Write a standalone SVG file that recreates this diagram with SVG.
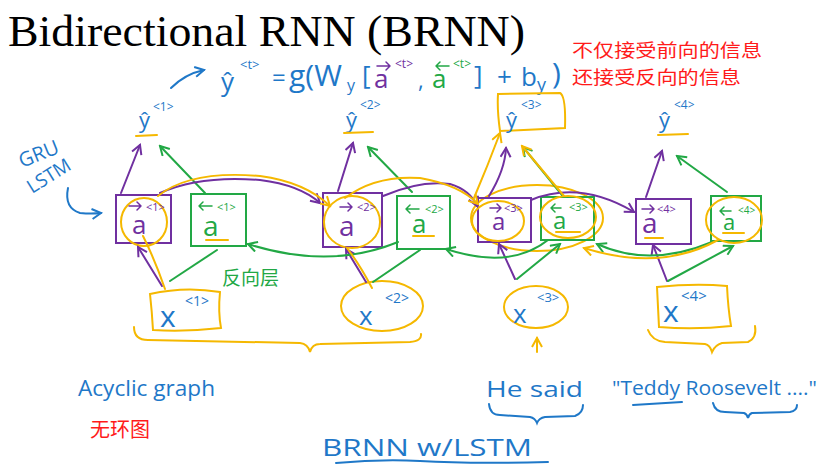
<svg xmlns="http://www.w3.org/2000/svg" width="831" height="471" viewBox="0 0 831 471">
<style>
.hw{font-family:"Open Sans","Liberation Sans",sans-serif;}
.blue{fill:#1f78c8;}
.pur{fill:#7030a0;}
.grn{fill:#22a845;}
.red{fill:#ff1a1a;font-family:"Noto Sans CJK SC",sans-serif;}
.sp{stroke:#7030a0;stroke-width:2;fill:none;stroke-linecap:round;stroke-linejoin:round;}
.sg{stroke:#22a845;stroke-width:2;fill:none;stroke-linecap:round;stroke-linejoin:round;}
.sy{stroke:#f5b800;stroke-width:2;fill:none;stroke-linecap:round;}
.sb{stroke:#1f78c8;stroke-width:2;fill:none;stroke-linecap:round;}
.acp{stroke:#7030a0;stroke-width:1.5;fill:none;stroke-linecap:round;stroke-linejoin:round;}
.acg{stroke:#22a845;stroke-width:1.5;fill:none;stroke-linecap:round;stroke-linejoin:round;}
.boxp{stroke:#7030a0;stroke-width:2;fill:none;}
.boxg{stroke:#22a845;stroke-width:2;fill:none;}
.boxy{stroke:#f5b800;stroke-width:2;fill:none;}
.title{font-family:"Liberation Serif","DejaVu Serif",serif;}
.cjk{font-family:"Noto Sans CJK SC",sans-serif;}
</style>
<defs>
<marker id="mp" markerWidth="12" markerHeight="12" refX="10" refY="6" orient="auto" markerUnits="userSpaceOnUse"><path d="M1,1 L10,6 L1,11" fill="none" stroke="#7030a0" stroke-width="2"/></marker>
<marker id="mg" markerWidth="12" markerHeight="12" refX="10" refY="6" orient="auto" markerUnits="userSpaceOnUse"><path d="M1,1 L10,6 L1,11" fill="none" stroke="#22a845" stroke-width="2"/></marker>
<marker id="my" markerWidth="12" markerHeight="12" refX="10" refY="6" orient="auto" markerUnits="userSpaceOnUse"><path d="M1,1 L10,6 L1,11" fill="none" stroke="#f5b800" stroke-width="2"/></marker>
<marker id="mb" markerWidth="12" markerHeight="12" refX="10" refY="6" orient="auto" markerUnits="userSpaceOnUse"><path d="M1,1 L10,6 L1,11" fill="none" stroke="#1f78c8" stroke-width="2"/></marker>
</defs>
<rect width="831" height="471" fill="#ffffff"/>

<g id="title"><text class="title" x="8" y="46" font-size="44" textLength="517" lengthAdjust="spacingAndGlyphs" fill="#000">Bidirectional RNN (BRNN)</text></g>

<g id="note">
<text class="red" x="572" y="57" font-size="18" textLength="190" lengthAdjust="spacingAndGlyphs">不仅接受前向的信息</text>
<text class="red" x="572" y="84" font-size="18" textLength="169" lengthAdjust="spacingAndGlyphs">还接受反向的信息</text>
</g>

<g id="equation" class="hw">
<path class="sb" d="M171,88 Q185,74 204,70" marker-end="url(#mb)"/>
<text class="blue" x="221" y="91" font-size="26">ŷ</text>
<text class="blue" x="240" y="69" font-size="13">&lt;t&gt;</text>
<text class="blue" x="272" y="86" font-size="24">=</text>
<text class="blue" x="289" y="86" font-size="30">g(W</text>
<text class="blue" x="347" y="91" font-size="16">y</text>
<text class="blue" x="362" y="84" font-size="26">[</text>
<path class="acp" d="M377,66 H390 M386,62 L390,66 L386,70"/>
<text class="pur" x="374" y="88" font-size="26">a</text>
<text class="pur" x="395" y="68" font-size="12">&lt;t&gt;</text>
<text class="blue" x="418" y="88" font-size="22">,</text>
<path class="acg" d="M449,66 H436 M440,62 L436,66 L440,70"/>
<text class="grn" x="432" y="88" font-size="26">a</text>
<text class="grn" x="453" y="68" font-size="12">&lt;t&gt;</text>
<text class="blue" x="474" y="84" font-size="26">]</text>
<text class="blue" x="497" y="86" font-size="26">+</text>
<text class="blue" x="521" y="86" font-size="26">b</text>
<text class="blue" x="537" y="91" font-size="18">y</text>
<text class="blue" x="552" y="84" font-size="30">)</text>
</g>

<g id="y1" class="hw">
<text class="blue" x="139" y="128" font-size="22">ŷ</text>
<text class="blue" x="153" y="111" font-size="12">&lt;1&gt;</text>
<path class="sy" d="M136,136 L157,135"/>
</g>
<g id="y2" class="hw">
<text class="blue" x="346" y="128" font-size="22">ŷ</text>
<text class="blue" x="360" y="109" font-size="12">&lt;2&gt;</text>
<path class="sy" d="M344,133 L373,132"/>
</g>
<g id="y3" class="hw">
<path class="boxy" d="M498,94 L560,93 Q566,96 565,128 L500,131 Q497,110 498,94 Z"/>
<text class="blue" x="506" y="128" font-size="22">ŷ</text>
<text class="blue" x="521" y="109" font-size="12">&lt;3&gt;</text>
</g>
<g id="y4" class="hw">
<text class="blue" x="659" y="128" font-size="22">ŷ</text>
<text class="blue" x="674" y="109" font-size="12">&lt;4&gt;</text>
<path class="sy" d="M658,135 L688,134"/>
</g>

<g id="af1" class="hw">
<rect class="boxp" x="116" y="195" width="55" height="48"/>
<ellipse class="boxy" cx="144" cy="222" rx="23" ry="24"/>
<path class="acp" d="M129,206 H141 M137,202 L141,206 L137,210"/>
<text class="pur" x="146" y="211" font-size="11">&lt;1&gt;</text>
<text class="pur" x="132" y="234" font-size="26">a</text>
</g>
<g id="ab1" class="hw">
<rect class="boxg" x="191" y="194" width="55" height="52"/>
<path class="acg" d="M212,206 H199 M203,202 L199,206 L203,210"/>
<text class="grn" x="217" y="211" font-size="11">&lt;1&gt;</text>
<text class="grn" x="203" y="236" font-size="28">a</text>
<path class="sy" d="M206,240 L228,240"/>
</g>
<g id="af2" class="hw">
<rect class="boxp" x="323" y="193" width="59" height="54"/>
<ellipse class="boxy" cx="352" cy="222" rx="28" ry="26"/>
<path class="acp" d="M340,207 H352 M348,203 L352,207 L348,211"/>
<text class="pur" x="357" y="211" font-size="11">&lt;2&gt;</text>
<text class="pur" x="339" y="236" font-size="28">a</text>
</g>
<g id="ab2" class="hw">
<rect class="boxg" x="397" y="196" width="53" height="53"/>
<path class="acg" d="M419,209 H406 M410,205 L406,209 L410,213"/>
<text class="grn" x="425" y="213" font-size="11">&lt;2&gt;</text>
<text class="grn" x="412" y="233" font-size="26">a</text>
<path class="sy" d="M413,236 L434,236"/>
</g>
<g id="af3" class="hw">
<ellipse class="boxy" cx="537" cy="218" rx="66" ry="33"/>
<rect class="boxp" x="478" y="198" width="53" height="44"/>
<ellipse class="boxy" cx="498" cy="221" rx="26" ry="20"/>
<path class="acp" d="M490,208 H501 M497,204 L501,208 L497,212"/>
<text class="pur" x="504" y="212" font-size="11">&lt;3&gt;</text>
<text class="pur" x="492" y="230" font-size="24">a</text>
</g>
<g id="ab3" class="hw">
<rect class="boxg" x="541" y="197" width="53" height="43"/>
<ellipse class="boxy" cx="568" cy="217" rx="28" ry="21"/>
<path class="acg" d="M561,208 H551 M555,204 L551,208 L555,212"/>
<text class="grn" x="569" y="211" font-size="11">&lt;3&gt;</text>
<text class="grn" x="553" y="229" font-size="24">a</text>
<path class="sy" d="M556,232 L580,232"/>
</g>
<g id="af4" class="hw">
<rect class="boxp" x="636" y="199" width="55" height="45"/>
<path class="acp" d="M642,209 H654 M650,205 L654,209 L650,213"/>
<text class="pur" x="657" y="213" font-size="11">&lt;4&gt;</text>
<text class="pur" x="642" y="233" font-size="28">a</text>
<path class="sy" d="M645,238 L663,238"/>
</g>
<g id="ab4" class="hw">
<rect class="boxg" x="711" y="196" width="50" height="45"/>
<ellipse class="boxy" cx="734" cy="220" rx="28" ry="23"/>
<path class="acg" d="M731,211 H720 M724,207 L720,211 L724,215"/>
<text class="grn" x="738" y="214" font-size="10">&lt;4&gt;</text>
<text class="grn" x="723" y="230" font-size="22">a</text>
<path class="sy" d="M723,233 L744,233"/>
</g>

<g id="x1" class="hw">
<path class="boxy" d="M150,294 Q185,286 220,292 Q218,312 221,328 Q185,332 153,330 Q152,312 150,294 Z"/>
<text class="blue" x="160" y="327" font-size="30">x</text>
<text class="blue" x="185" y="306" font-size="14">&lt;1&gt;</text>
</g>
<g id="x2" class="hw">
<ellipse class="boxy" cx="382" cy="306" rx="41" ry="25"/>
<text class="blue" x="359" y="325" font-size="26">x</text>
<text class="blue" x="385" y="303" font-size="14">&lt;2&gt;</text>
</g>
<g id="x3" class="hw">
<ellipse class="boxy" cx="536" cy="307" rx="32" ry="21"/>
<text class="blue" x="513" y="323" font-size="26">x</text>
<text class="blue" x="537" y="302" font-size="13">&lt;3&gt;</text>
</g>
<g id="x4" class="hw">
<path class="boxy" d="M657,287 Q695,283 727,286 Q728,308 731,326 Q695,330 659,327 Q658,306 657,287 Z"/>
<text class="blue" x="663" y="322" font-size="30">x</text>
<text class="blue" x="681" y="301" font-size="15">&lt;4&gt;</text>
</g>

<g id="connectors">
<path class="sp" d="M162,286 L138,247" marker-end="url(#mp)"/>
<path class="sp" d="M366,282 L346,249" marker-end="url(#mp)"/>
<path class="sp" d="M515,279 L499,244" marker-end="url(#mp)"/>
<path class="sp" d="M667,281 L653,245" marker-end="url(#mp)"/>
<path class="sg" d="M170,281 L217,250"/>
<path class="sg" d="M373,282 L420,250"/>
<path class="sg" d="M517,279 L560,244" marker-end="url(#mg)"/>
<path class="sg" d="M668,281 L733,246" marker-end="url(#mg)"/>
<path class="sp" d="M121,193 L140,145" marker-end="url(#mp)"/>
<path class="sp" d="M338,191 L353,143" marker-end="url(#mp)"/>
<path class="sp" d="M489,196 Q505,170 506,148" marker-end="url(#mp)"/>
<path class="sp" d="M646,197 L662,151" marker-end="url(#mp)"/>
<path class="sg" d="M205,193 L160,146" marker-end="url(#mg)"/>
<path class="sg" d="M412,192 L368,147" marker-end="url(#mg)"/>
<path class="sg" d="M562,195 L523,147" marker-end="url(#mg)"/>
<path class="sg" d="M727,192 L677,156" marker-end="url(#mg)"/>
<path class="sp" d="M160,193 Q200,175 260,180 Q300,185 320,203" marker-end="url(#mp)"/>
<path class="sp" d="M383,196 Q420,180 450,184 Q470,190 477,206" marker-end="url(#mp)"/>
<path class="sp" d="M531,200 Q580,180 634,212" marker-end="url(#mp)"/>
<path class="sg" d="M398,242 Q330,270 248,244" marker-end="url(#mg)"/>
<path class="sg" d="M548,240 Q510,270 446,249" marker-end="url(#mg)"/>
<path class="sg" d="M712,242 Q650,268 597,244" marker-end="url(#mg)"/>
<path class="sy" d="M165,289 Q155,260 143,236"/>
<path class="sy" d="M158,196 Q190,170 260,176 Q305,182 330,206" marker-end="url(#my)"/>
<path class="sy" d="M372,288 Q360,265 347,248"/>
<path class="sy" d="M345,198 Q375,175 420,178 Q460,185 478,204" marker-end="url(#my)"/>
<path class="sy" d="M474,198 Q488,165 500,133" marker-end="url(#my)"/>
<path class="sy" d="M564,196 L522,146" marker-end="url(#my)"/>
<path class="sy" d="M718,240 Q660,272 584,248" marker-end="url(#my)"/>
<path class="sy" d="M537,352 L537,338" marker-end="url(#my)"/>
</g>

<g id="gru-label" class="hw">
<text class="blue" x="22" y="168" font-size="20" transform="rotate(-22 22 168)">GRU</text>
<text class="blue" x="32" y="194" font-size="19" transform="rotate(-32 32 194)">LSTM</text>
<path class="sb" d="M68,188 Q64,208 80,213 Q92,214 101,213" marker-end="url(#mb)"/>
</g>

<g id="backward-label"><text class="cjk" x="222" y="285" font-size="19" fill="#22a845">反向层</text></g>

<g id="braces">
<path class="sy" d="M134,327 Q134,340 148,340 L300,343 Q308,344 310,352 Q312,344 320,344 L410,342 Q422,341 421,334"/>
<path class="sy" d="M648,330 Q652,341 665,342 L705,344 Q710,345 712,352 Q715,345 722,343 L748,342 Q757,338 755,326"/>
<path class="sb" d="M489,404 Q490,415 500,415 L530,417 Q535,418 537,423 Q539,418 545,417 L575,416 Q583,413 583,405"/>
<path class="sb" d="M713,403 Q715,412 725,412 L744,413 Q747,414 748,418 Q749,414 752,413 L790,412 Q797,411 797,405"/>
<path class="sb" d="M633,405 L682,402"/>
<path class="sb" d="M336,463 Q380,459 420,461 Q470,464 548,462"/>
</g>

<g id="bottom-text" class="hw">
<text class="blue" x="78" y="396" font-size="22" textLength="137" lengthAdjust="spacingAndGlyphs">Acyclic graph</text>
<text class="cjk" x="90" y="437" font-size="20" fill="#ff1a1a">无环图</text>
<text class="blue" x="486" y="397" font-size="22" textLength="97" lengthAdjust="spacingAndGlyphs">He  said</text>
<text class="blue" x="612" y="395" font-size="20" textLength="205" lengthAdjust="spacingAndGlyphs">"Teddy  Roosevelt ...."</text>
<text class="blue" x="322" y="456" font-size="24" textLength="210" lengthAdjust="spacingAndGlyphs">BRNN   w/LSTM</text>
</g>
</svg>
